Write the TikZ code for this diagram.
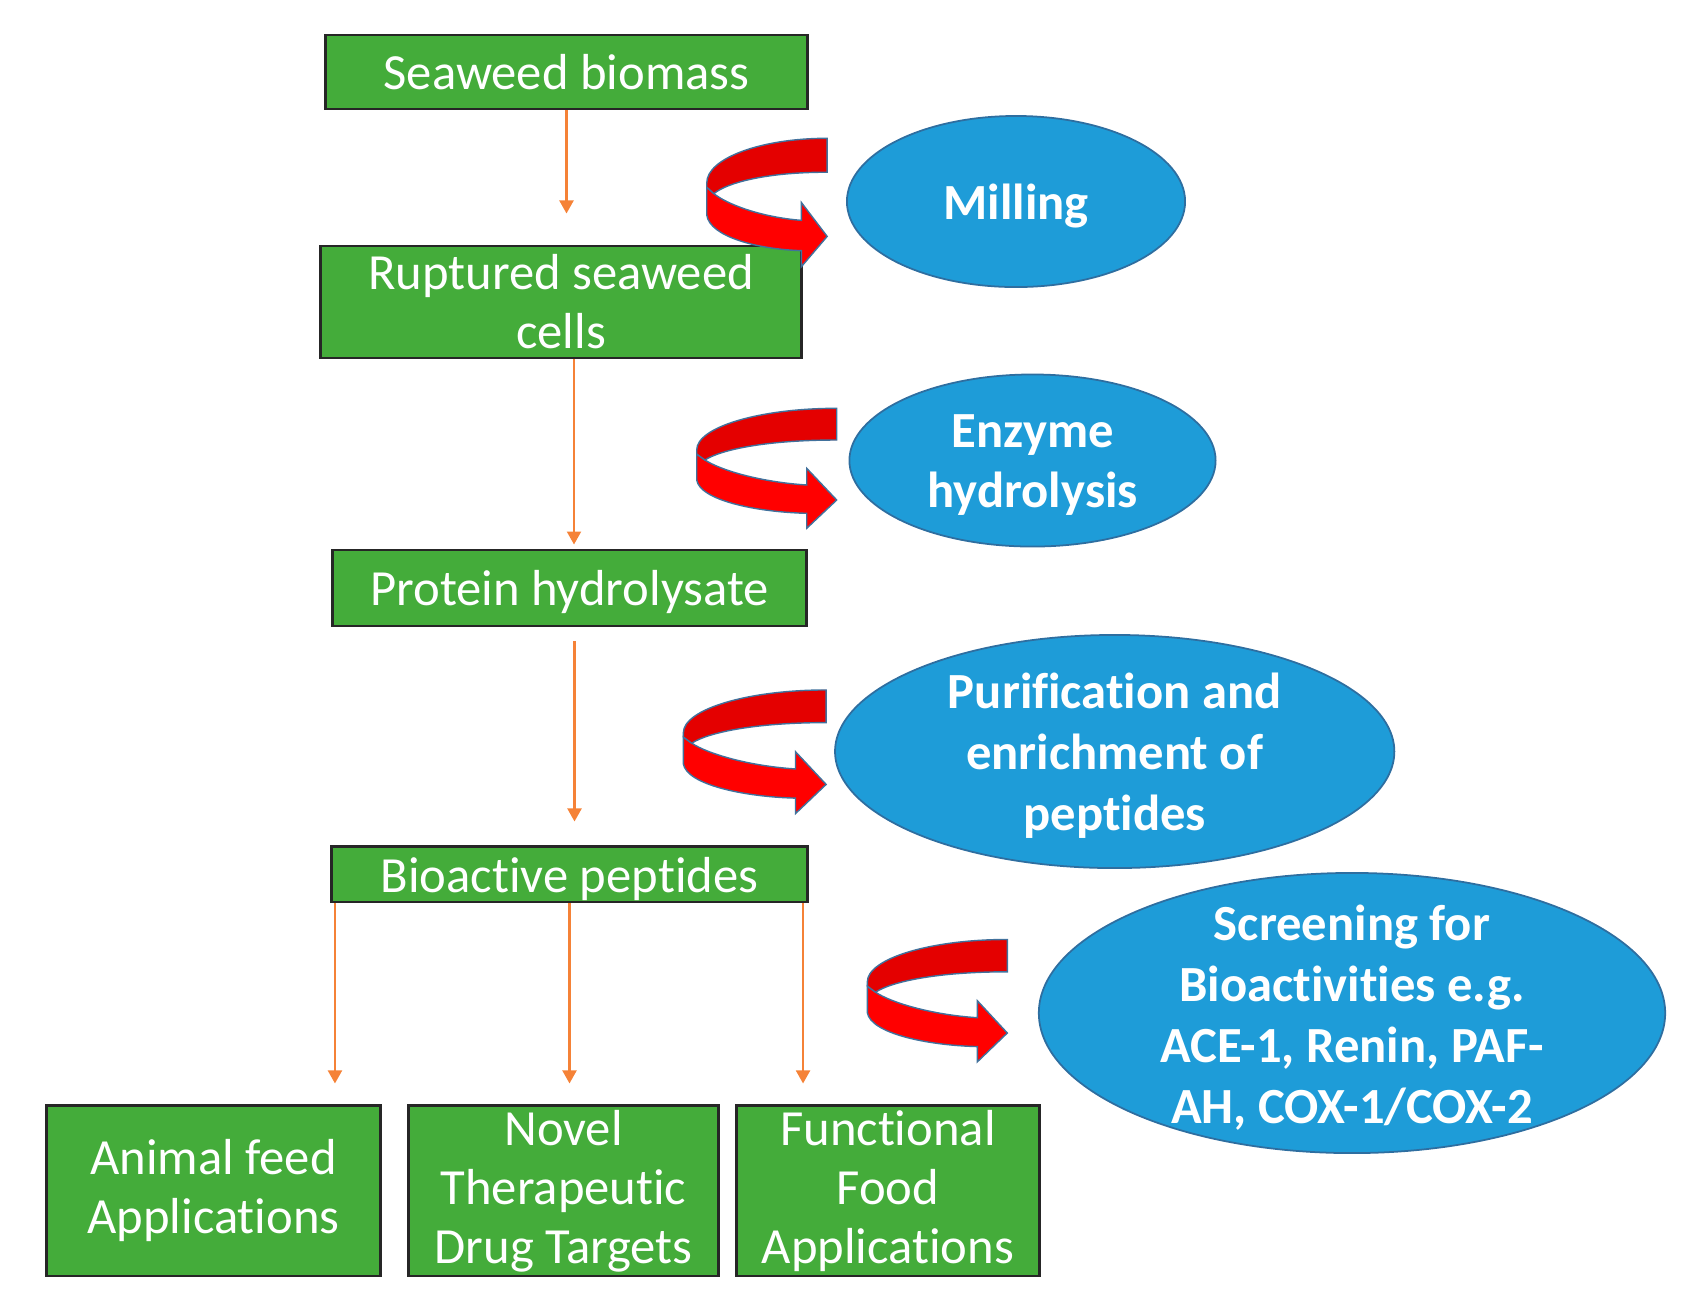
\documentclass[tikz,border=0pt]{standalone}
\usepackage{fontspec}
\setmainfont{Carlito}[Ligatures = NoCommon]
\usetikzlibrary{positioning, shapes.geometric, arrows.meta}
\definecolor{boxgreen}{RGB}{68, 172, 58}
\definecolor{bubbleblue}{RGB}{30, 156, 216}
\definecolor{bubbleedge}{RGB}{46, 110, 160}
\definecolor{flowarrow}{RGB}{245, 130, 55}
\definecolor{twistfront}{RGB}{255, 0, 0}
\definecolor{twistback}{RGB}{228, 0, 0}
\definecolor{twistedge}{RGB}{65, 113, 156}

\begin{document}
\begin{tikzpicture}[x = 0.01cm, y = -0.01cm,
  box/.style = {draw = black!85, line width = 0.8pt, fill = boxgreen, text = white, align = center, inner sep = 0pt, font = \fontsize{14.4}{16.8}\selectfont},
  bubble/.style = {ellipse, draw = bubbleedge, line width = 0.5pt, fill = bubbleblue, inner sep = 0pt},
  bubbletext/.style = {text = white, align = center, yshift = -0.45mm, font = \bfseries\fontsize{14.4}{17.3}\selectfont},
  flow/.style = {draw = flowarrow, line width = 0.6pt, -{Triangle[width = 1.4mm, length = 1.3mm]}},
  twistarrow/.pic = {
    \filldraw [fill = twistfront, draw = twistedge, line width = 0.4pt]
      (11.7,54) -- (20,60) .. controls (35,70) and (75,82) .. (121.7,85)
      -- (121.7,68.3) -- (151.7,100) -- (121.7,128.3) -- (121.7,113.3)
      .. controls (70,112) and (15,100) .. (11.7,80) -- cycle;
    \filldraw [fill = twistback, draw = twistedge, line width = 0.4pt]
      (151.7,8.3) .. controls (74.7,8.3) and (11.7,27) .. (11.7,50) -- (11.7,54) -- (20,60)
      .. controls (35,50) and (80,40) .. (151.7,40) -- cycle;
  }]
  \useasboundingbox (0,0) rectangle (1697,1308);

  % process column
  \node [box, minimum width = 48.1mm, minimum height = 7.4mm] (biomass) at (566.5,72) {Seaweed biomass};
  \node [box, minimum width = 48mm, minimum height = 11.2mm][below = 1.34cm of biomass, xshift = -0.55mm] (ruptured) {Ruptured seaweed\\cells};
  \node [box, text depth = 0pt, minimum width = 47.4mm, minimum height = 7.6mm][below = 1.89cm of ruptured, xshift = 0.85mm] (hydro) {Protein hydrolysate};
  \node [box, text depth = 0pt, minimum width = 47.6mm, minimum height = 5.5mm][below = 2.18cm of hydro] (peptides) {Bioactive peptides};

  % applications
  \node [box, minimum width = 31mm, minimum height = 17mm][below = 2.01cm of peptides, xshift = -0.6mm] (novel) {Novel\\Therapeutic\\Drug Targets};
  \node [box, minimum width = 33.4mm, minimum height = 17mm][left = 0.25cm of novel] (animal) {Animal feed\\Applications};
  \node [box, minimum width = 30.3mm, minimum height = 17mm][right = 0.15cm of novel] (functional) {Functional\\Food\\Applications};

  % process steps
  \node [bubble, minimum width = 33.8mm, minimum height = 17.1mm] (milling) at (1016,201.5) {};
  \node [bubbletext] (millingtext) at (milling) {Milling};
  \node [bubble, minimum width = 36.6mm, minimum height = 17.2mm] (enzyme) at (1032.5,460.5) {};
  \node [bubbletext] (enzymetext) at (enzyme) {Enzyme\\hydrolysis};
  \node [bubble, minimum width = 55.9mm, minimum height = 23.3mm] (purify) at (1114.7,751.5) {};
  \node [bubbletext] (purifytext) at (purify) {Purification and\\enrichment of\\peptides};
  \node [bubble, minimum width = 62.6mm, minimum height = 28mm] (screen) at (1352,1013) {};
  \node [bubbletext] (screentext) at (screen) {Screening for\\Bioactivities e.g.\\ACE-1, Renin, PAF-\\AH, COX-1/COX-2};

  % red turn arrows
  \pic [xscale = 0.86, yscale = 1.07] (millturn) at (696.7,129.4) {twistarrow};
  \pic (enzymeturn) at (685,400) {twistarrow};
  \pic [xscale = 1.02, yscale = 1.03] (purifyturn) at (671.4,681.4) {twistarrow};
  \pic [yscale = 1.02] (screenturn) at (855.6,931) {twistarrow};

  % edges
  \draw [flow, shorten >= 3.1mm] (biomass.south) -- (biomass.south |- ruptured.north);
  \draw [flow, shorten >= 0.4mm] ([xshift = 1.3mm]ruptured.south) -- ([xshift = 1.3mm]ruptured.south |- hydro.north);
  \draw [flow, shorten <= 1.4mm, shorten >= 2.4mm] ([xshift = 0.5mm]hydro.south) -- ([xshift = 0.5mm]hydro.south |- peptides.north);
  \draw [flow, shorten >= 2.1mm] ([xshift = 0.5mm]peptides.south west) -- ([xshift = 0.5mm]peptides.south west |- animal.north);
  \draw [flow, shorten >= 2.1mm] (peptides.south) -- (peptides.south |- novel.north);
  \draw [flow, shorten >= 2.1mm] ([xshift = -0.6mm]peptides.south east) -- ([xshift = -0.6mm]peptides.south east |- functional.north);
\end{tikzpicture}
\end{document}
